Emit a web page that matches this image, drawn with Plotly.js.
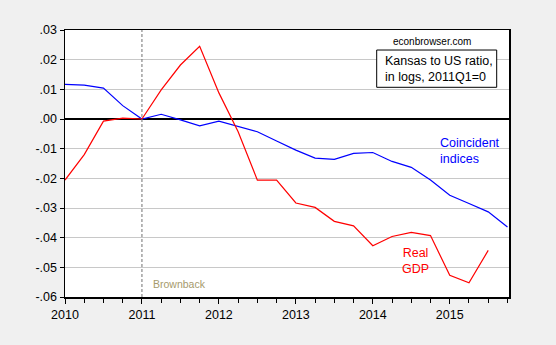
<!DOCTYPE html>
<html>
<head>
<meta charset="utf-8">
<script src="https://cdn.plot.ly/plotly-3.0.1.min.js"></script>
<style>html,body{margin:0;padding:0;background:#f0f0f0;}#chart{width:556px;height:345px;}</style>
</head>
<body>
<div id="chart"></div>
<script>
// Quarter positions (2010Q1 .. 2015Q4) as fractional years
var quarters = [2010.00, 2010.25, 2010.50, 2010.75,
                2011.00, 2011.25, 2011.50, 2011.75,
                2012.00, 2012.25, 2012.50, 2012.75,
                2013.00, 2013.25, 2013.50, 2013.75,
                2014.00, 2014.25, 2014.50, 2014.75,
                2015.00, 2015.25, 2015.50, 2015.75];

// Kansas/US coincident index ratio, log, 2011Q1=0
var coincident = [0.0117, 0.0114, 0.0104, 0.0045,
                  0.0000, 0.0016, -0.0003, -0.0023,
                  -0.0007, -0.0026, -0.0043, -0.0074,
                  -0.0105, -0.0132, -0.0136, -0.0116,
                  -0.0113, -0.0143, -0.0163, -0.0206,
                  -0.0257, -0.0285, -0.0313, -0.0364];

// Kansas/US real GDP ratio, log, 2011Q1=0 (through 2015Q3)
var realGDP = [-0.0206, -0.0120, -0.0007, 0.0003,
               0.0000, 0.0098, 0.0182, 0.0245,
               0.0088, -0.0043, -0.0206, -0.0206,
               -0.0283, -0.0298, -0.0345, -0.0360,
               -0.0427, -0.0396, -0.0382, -0.0393,
               -0.0527, -0.0552, -0.0443];

var yTickVals = [0.03, 0.02, 0.01, 0.00, -0.01, -0.02, -0.03, -0.04, -0.05, -0.06];
var yTickText = [".03", ".02", ".01", ".00", "-.01", "-.02", "-.03", "-.04", "-.05", "-.06"];
var xTickVals = [2010, 2011, 2012, 2013, 2014, 2015];
var xTickText = ["2010", "2011", "2012", "2013", "2014", "2015"];

var traces = [
  {x: quarters, y: coincident, type: 'scatter', mode: 'lines',
   line: {color: '#0000ff', width: 1.2}, hoverinfo: 'skip'},
  {x: quarters.slice(0, realGDP.length), y: realGDP, type: 'scatter', mode: 'lines',
   line: {color: '#ff0000', width: 1.2}, hoverinfo: 'skip'}
];

var fontFam = 'Liberation Sans, Arial, sans-serif';

var layout = {
  width: 556, height: 345,
  paper_bgcolor: '#f0f0f0',
  plot_bgcolor: '#ffffff',
  showlegend: false,
  margin: {l: 65, r: 47, t: 30, b: 48, pad: 0},
  font: {family: fontFam, size: 12, color: '#000000'},
  xaxis: {
    range: [2010, 2015.77],
    tickmode: 'array', tickvals: xTickVals, ticktext: xTickText,
    ticks: 'outside', ticklen: 5, tickcolor: '#000', tickwidth: 1,
    minor: {tickmode: 'linear', tick0: 2010, dtick: 0.25, ticks: 'outside', ticklen: 4, tickcolor: '#000', showgrid: false},
    showgrid: false, zeroline: false,
    showline: true, linecolor: '#000', linewidth: 1.5, mirror: true,
    tickfont: {family: fontFam, size: 12.5, color: '#000'}
  },
  yaxis: {
    range: [-0.06, 0.03],
    tickmode: 'array', tickvals: yTickVals, ticktext: yTickText,
    ticks: 'outside', ticklen: 4, tickcolor: '#000',
    showgrid: true, gridcolor: '#c8c8c8', gridwidth: 1,
    zeroline: true, zerolinecolor: '#000', zerolinewidth: 1.5,
    showline: true, linecolor: '#000', linewidth: 1.5, mirror: true,
    tickfont: {family: fontFam, size: 12.5, color: '#000'}
  },
  shapes: [
    {type: 'line', xref: 'x', yref: 'paper', x0: 2011, x1: 2011, y0: 0, y1: 1,
     line: {color: '#707070', width: 1, dash: '3px,2px'}},
    {type: 'rect', xref: 'paper', yref: 'paper', x0: 0.702, x1: 0.9723, y0: 0.7854, y1: 0.925,
     line: {color: '#000', width: 1}, fillcolor: '#ffffff'}
  ],
  annotations: [
    {text: 'econbrowser.com', xref: 'paper', yref: 'paper', x: 0.8266, y: 0.9588,
     xanchor: 'center', yanchor: 'middle', showarrow: false,
     font: {family: fontFam, size: 10, color: '#000'}},
    {text: 'Kansas to US ratio,<br>in logs, 2011Q1=0', xref: 'paper', yref: 'paper',
     x: 0.7162, y: 0.8558, xanchor: 'left', yanchor: 'middle', align: 'left', showarrow: false,
     font: {family: fontFam, size: 12.5, color: '#000'}},
    {text: 'Coincident<br>indices', xref: 'paper', yref: 'paper',
     x: 0.8401, y: 0.5468, xanchor: 'left', yanchor: 'middle', align: 'left', showarrow: false,
     font: {family: fontFam, size: 12.5, color: '#0000ff'}},
    {text: 'Real<br>GDP', xref: 'paper', yref: 'paper',
     x: 0.7905, y: 0.1348, xanchor: 'center', yanchor: 'middle', align: 'center', showarrow: false,
     font: {family: fontFam, size: 12.5, color: '#ff0000'}},
    {text: 'Brownback', xref: 'paper', yref: 'paper',
     x: 0.194, y: 0.0476, xanchor: 'left', yanchor: 'middle', showarrow: false,
     font: {family: fontFam, size: 10.5, color: '#a69a6c'}}
  ]
};

Plotly.newPlot('chart', traces, layout, {staticPlot: true, displayModeBar: false});
</script>
</body>
</html>
